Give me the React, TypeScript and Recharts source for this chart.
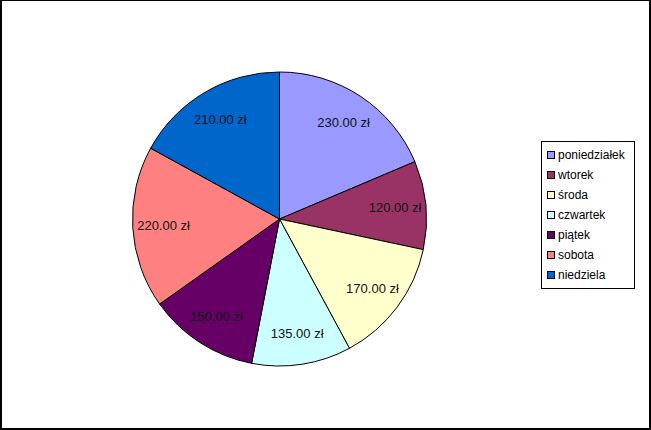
import React from 'react';
import { PieChart, Pie, Cell } from 'recharts';

const days = ['poniedziałek', 'wtorek', 'środa', 'czwartek', 'piątek', 'sobota', 'niedziela'];
const amounts = [230, 120, 170, 135, 150, 220, 210];
const colors = ['#9999FF', '#993366', '#FFFFCC', '#CCFFFF', '#660066', '#FF8080', '#0066CC'];

const data = days.map((name, i) => ({ name, value: amounts[i] }));

const RADIAN = Math.PI / 180;
const FONT = '"Liberation Sans", Arial, sans-serif';

const renderLabel = (props: any) => {
  const { cx, cy, midAngle, outerRadius, value } = props;
  const r = outerRadius * 0.79;
  const x = cx + r * Math.cos(-midAngle * RADIAN);
  const y = cy + r * Math.sin(-midAngle * RADIAN);
  return (
    <text
      x={x}
      y={y}
      fill="#111"
      textAnchor="middle"
      dominantBaseline="central"
      fontSize={13}
      fontFamily={FONT}
    >
      {`${value.toFixed(2)} zł`}
    </text>
  );
};

// Legend box listing the days in data order
const LegendBox = () => (
  <div
    style={{
      position: 'absolute',
      left: 541,
      top: 141,
      width: 94,
      height: 148,
      boxSizing: 'border-box',
      border: '1px solid #000',
      background: '#fff',
      paddingTop: 3,
      fontFamily: FONT,
      fontSize: 12,
      color: '#000',
    }}
  >
    {days.map((name, i) => (
      <div key={name} style={{ display: 'flex', alignItems: 'center', height: 20, paddingLeft: 5 }}>
        <span
          style={{
            display: 'inline-block',
            width: 8,
            height: 8,
            boxSizing: 'border-box',
            border: '1px solid #000',
            background: colors[i],
            marginRight: 3,
          }}
        />
        <span>{name}</span>
      </div>
    ))}
  </div>
);

export default function App() {
  return (
    <div
      style={{
        position: 'absolute',
        left: 0,
        top: 0,
        width: 651,
        height: 430,
        boxSizing: 'border-box',
        borderTop: '1px solid #000',
        borderLeft: '2px solid #000',
        borderRight: '2px solid #000',
        borderBottom: '2px solid #000',
        background: '#fff',
      }}
    >
      <div style={{ position: 'absolute', left: -2, top: -1, width: 651, height: 430 }}>
        <PieChart width={651} height={430} margin={{ top: 0, right: 0, bottom: 0, left: 0 }}>
          <Pie
            data={data}
            dataKey="value"
            nameKey="name"
            cx={279.5}
            cy={219}
            outerRadius={147}
            startAngle={90}
            endAngle={-270}
            stroke="#000"
            strokeWidth={1}
            label={renderLabel}
            labelLine={false}
            isAnimationActive={false}
          >
            {data.map((d, i) => (
              <Cell key={d.name} fill={colors[i]} />
            ))}
          </Pie>
        </PieChart>
        <LegendBox />
      </div>
    </div>
  );
}
